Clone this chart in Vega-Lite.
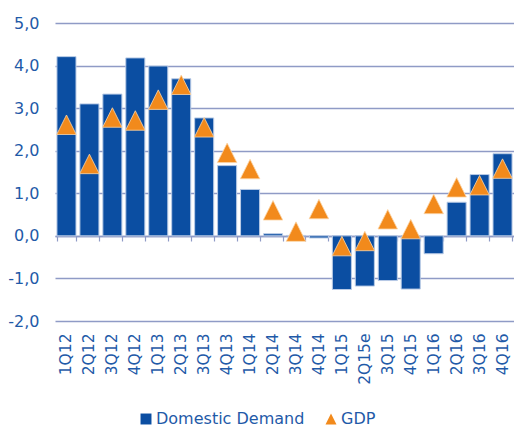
{
  "$schema": "https://vega.github.io/schema/vega-lite/v6.json",
  "width": 459,
  "height": 298,
  "autosize": "none",
  "padding": {"left": 55, "top": 23, "right": 0, "bottom": 108},
  "config": {
    "view": {"stroke": null},
    "font": "DejaVu Sans",
    "axis": {"labelFont": "DejaVu Sans"},
    "legend": {"labelFont": "DejaVu Sans"}
  },
  "data": {
    "values": [
      {"q": "1Q12", "series": "Domestic Demand", "value": 4.21},
      {"q": "2Q12", "series": "Domestic Demand", "value": 3.10},
      {"q": "3Q12", "series": "Domestic Demand", "value": 3.33},
      {"q": "4Q12", "series": "Domestic Demand", "value": 4.18},
      {"q": "1Q13", "series": "Domestic Demand", "value": 3.99},
      {"q": "2Q13", "series": "Domestic Demand", "value": 3.69},
      {"q": "3Q13", "series": "Domestic Demand", "value": 2.77},
      {"q": "4Q13", "series": "Domestic Demand", "value": 1.65},
      {"q": "1Q14", "series": "Domestic Demand", "value": 1.09},
      {"q": "2Q14", "series": "Domestic Demand", "value": 0.05},
      {"q": "3Q14", "series": "Domestic Demand", "value": 0.01},
      {"q": "4Q14", "series": "Domestic Demand", "value": -0.05},
      {"q": "1Q15", "series": "Domestic Demand", "value": -1.26},
      {"q": "2Q15e", "series": "Domestic Demand", "value": -1.18},
      {"q": "3Q15", "series": "Domestic Demand", "value": -1.05},
      {"q": "4Q15", "series": "Domestic Demand", "value": -1.25},
      {"q": "1Q16", "series": "Domestic Demand", "value": -0.42},
      {"q": "2Q16", "series": "Domestic Demand", "value": 0.79},
      {"q": "3Q16", "series": "Domestic Demand", "value": 1.44},
      {"q": "4Q16", "series": "Domestic Demand", "value": 1.93},
      {"q": "1Q12", "series": "GDP", "value": 2.61},
      {"q": "2Q12", "series": "GDP", "value": 1.69},
      {"q": "3Q12", "series": "GDP", "value": 2.78},
      {"q": "4Q12", "series": "GDP", "value": 2.71},
      {"q": "1Q13", "series": "GDP", "value": 3.20},
      {"q": "2Q13", "series": "GDP", "value": 3.55},
      {"q": "3Q13", "series": "GDP", "value": 2.55},
      {"q": "4Q13", "series": "GDP", "value": 1.95},
      {"q": "1Q14", "series": "GDP", "value": 1.57},
      {"q": "2Q14", "series": "GDP", "value": 0.60},
      {"q": "3Q14", "series": "GDP", "value": 0.10},
      {"q": "4Q14", "series": "GDP", "value": 0.63},
      {"q": "1Q15", "series": "GDP", "value": -0.24},
      {"q": "2Q15e", "series": "GDP", "value": -0.12},
      {"q": "3Q15", "series": "GDP", "value": 0.39},
      {"q": "4Q15", "series": "GDP", "value": 0.16},
      {"q": "1Q16", "series": "GDP", "value": 0.75},
      {"q": "2Q16", "series": "GDP", "value": 1.14},
      {"q": "3Q16", "series": "GDP", "value": 1.19},
      {"q": "4Q16", "series": "GDP", "value": 1.58}
    ]
  },
  "resolve": {"axis": {"x": "independent", "y": "independent"}},
  "layer": [
    {
      "transform": [{"filter": "datum.series === 'Domestic Demand'"}],
      "mark": {"type": "bar", "stroke": "#b9cbe6", "strokeWidth": 1},
      "encoding": {
        "x": {
          "field": "q", "type": "nominal", "sort": null,
          "scale": {"paddingInner": 0.17, "paddingOuter": 0.085},
          "axis": {
            "orient": "bottom",
            "title": null, "labelAngle": -90, "labelFontSize": 15.5,
            "labelColor": "#1f5aa8", "labelPadding": 12, "ticks": false,
            "domain": false, "grid": false
          }
        },
        "y": {
          "field": "value", "type": "quantitative",
          "scale": {"domain": [-2, 5], "nice": false, "zero": false},
          "axis": {
            "orient": "left",
            "title": null, "values": [-2, -1, 0, 1, 2, 3, 4, 5],
            "labelExpr": "replace(replace(format(datum.value, '.1f'), '.', ','), '\u2212', '-')",
            "labelFontSize": 16, "labelColor": "#1f5aa8", "labelPadding": 16,
            "ticks": false, "domain": false, "grid": true,
            "gridColor": "#8f9bc6", "gridWidth": 1.6
          }
        },
        "color": {
          "field": "series", "type": "nominal",
          "scale": {"domain": ["Domestic Demand", "GDP"], "range": ["#0b4ea2", "#f28a1c"]},
          "legend": {
            "title": null, "orient": "none", "direction": "horizontal",
            "legendX": 83, "legendY": 388, "labelFontSize": 16,
            "labelColor": "#1f5aa8", "symbolSize": 120, "labelOffset": 2,
            "columnPadding": 18, "symbolStrokeWidth": 0, "symbolOpacity": 1
          }
        }
      }
    },
    {
      "transform": [{"filter": "datum.series === 'GDP'"}],
      "mark": {"type": "point", "filled": true, "opacity": 1, "size": 380, "stroke": "#fbd5a8", "strokeWidth": 0.8},
      "encoding": {
        "x": {
          "field": "q", "type": "nominal", "sort": null,
          "axis": {
            "orient": "bottom",
            "title": null, "labels": false, "ticks": true, "tickBand": "extent",
            "tickSize": 5, "tickColor": "#8f9bc6", "tickWidth": 1.2,
            "domain": true, "domainColor": "#8f9bc6", "domainWidth": 1.6,
            "offset": -85, "grid": false
          }
        },
        "y": {"field": "value", "type": "quantitative", "axis": null},
        "color": {"field": "series", "type": "nominal"},
        "shape": {
          "field": "series", "type": "nominal",
          "scale": {"domain": ["Domestic Demand", "GDP"], "range": ["square", "M0,-1L1,1L-1,1Z"]},
          "legend": {
            "title": null, "orient": "none", "direction": "horizontal",
            "legendX": 83, "legendY": 388, "labelFontSize": 16,
            "labelColor": "#1f5aa8", "symbolSize": 120, "labelOffset": 2,
            "columnPadding": 18, "symbolStrokeWidth": 0, "symbolOpacity": 1
          }
        }
      }
    }
  ]
}
